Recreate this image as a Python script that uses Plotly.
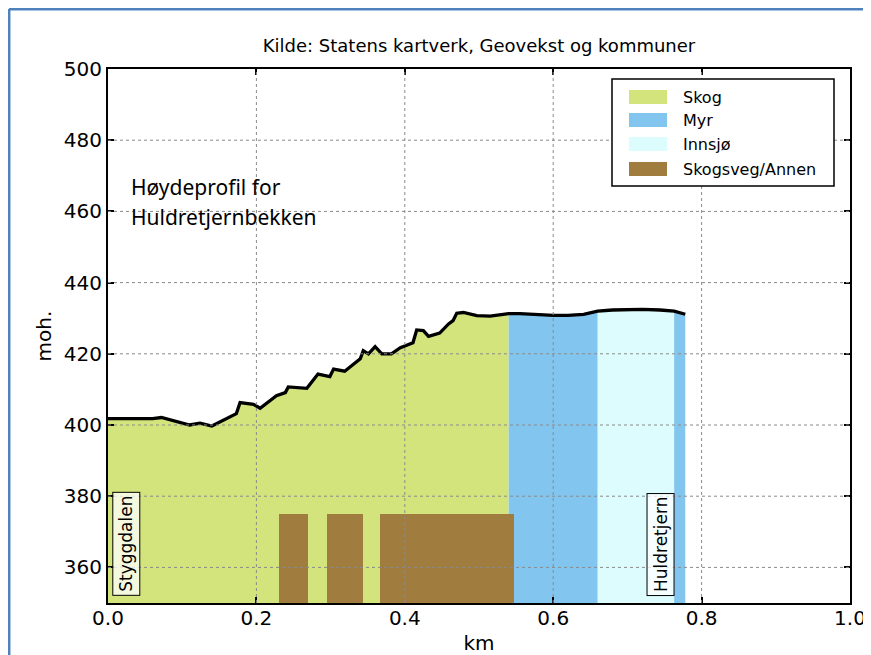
import plotly.graph_objects as go

# height profile (km, metres above sea level)
profile_km = [0.0, 0.06, 0.072, 0.11, 0.124, 0.14, 0.173, 0.178, 0.196, 0.205,
              0.227, 0.239, 0.243, 0.268, 0.283, 0.299, 0.304, 0.319, 0.34, 0.344,
              0.351, 0.36, 0.369, 0.382, 0.394, 0.411, 0.416, 0.425, 0.432, 0.447,
              0.459, 0.465, 0.47, 0.479, 0.497, 0.515, 0.54, 0.555, 0.6, 0.62,
              0.641, 0.66, 0.68, 0.699, 0.72, 0.744, 0.763, 0.778]
profile_moh = [401.8, 401.8, 402.1, 400.0, 400.5, 399.7, 403.2, 406.3, 405.8, 404.7,
               408.2, 409.1, 410.7, 410.3, 414.3, 413.6, 415.7, 415.1, 418.6, 420.9,
               420.0, 422.0, 420.0, 420.0, 421.7, 423.1, 426.7, 426.5, 424.9, 425.8,
               428.4, 429.3, 431.4, 431.6, 430.7, 430.6, 431.3, 431.3, 430.8, 430.8,
               431.1, 432.0, 432.3, 432.5, 432.5, 432.3, 432.0, 431.1]

# land cover along the profile
cover_start = [0.0, 0.54, 0.66, 0.763]
cover_end = [0.54, 0.66, 0.763, 0.778]
cover_type = ["Skog", "Myr", "Innsjø", "Myr"]

# forest roads
road_start = [0.231, 0.295, 0.367]
road_end = [0.270, 0.344, 0.547]
road_top = 375

legend_names = ["Skog", "Myr", "Innsjø", "Skogsveg/Annen"]
colors = {"Skog": "#d3e47c", "Myr": "#82c6ef", "Innsjø": "#ddfcfd",
          "Skogsveg/Annen": "#a07c3e"}

x_ticks = [0.0, 0.2, 0.4, 0.6, 0.8, 1.0]
y_ticks = [360, 380, 400, 420, 440, 460, 480, 500]
y_floor = 350

# page layout in pixels; the page body puts the figure 8px in from the corner
OFF = 8
L, R, T, B = 108, 850, 69, 603
W, H = 871 - OFF, 655 - OFF


def px(x):
    return (x - L) / (R - L)


def py(y):
    return (B - y) / (B - T)


fig = go.Figure()

for s, e, kind in zip(cover_start, cover_end, cover_type):
    xs = [k for k in profile_km if s <= k <= e]
    ys = [m for k, m in zip(profile_km, profile_moh) if s <= k <= e]
    fig.add_trace(go.Scatter(x=xs, y=ys, fill="tozeroy", mode="none",
                             fillcolor=colors[kind], showlegend=False,
                             hoverinfo="skip", zorder=0))

fig.add_trace(go.Bar(
    x=[(s + e) / 2 for s, e in zip(road_start, road_end)],
    width=[e - s for s, e in zip(road_start, road_end)],
    y=[road_top - y_floor] * len(road_start),
    base=y_floor,
    marker=dict(color=colors["Skogsveg/Annen"], line_width=0),
    showlegend=False, zorder=1))

fig.add_trace(go.Scatter(x=profile_km, y=profile_moh, mode="lines",
                         line=dict(color="black", width=3.3), showlegend=False,
                         zorder=2))

shapes = []
# grid above the fills, like the original
for t in x_ticks[1:-1]:
    shapes.append(dict(type="line", xref="x", yref="paper", x0=t, x1=t, y0=0, y1=1,
                       line=dict(color="#8a8a8a", width=1, dash="dot"), layer="above"))
for t in y_ticks[:-1]:
    shapes.append(dict(type="line", xref="paper", yref="y", x0=0, x1=1, y0=t, y1=t,
                       line=dict(color="#8a8a8a", width=1, dash="dot"), layer="above"))

# legend box
shapes.append(dict(type="rect", xref="paper", yref="paper", x0=px(612), x1=px(834),
                   y0=py(186), y1=py(79), fillcolor="white",
                   line=dict(color="black", width=1.5), layer="above"))
annotations = []
rows = [97, 120, 144, 169]
for name, r in zip(legend_names, rows):
    shapes.append(dict(type="rect", xref="paper", yref="paper", x0=px(629), x1=px(667),
                       y0=py(r + 7), y1=py(r - 7), fillcolor=colors[name],
                       line=dict(width=0), layer="above"))
    annotations.append(dict(x=px(681), y=py(r), xref="paper", yref="paper",
                            text=name, showarrow=False, xanchor="left", yanchor="middle",
                            font=dict(family="DejaVu Sans", size=16, color="black")))

# blue frame of the screenshot
shapes.append(dict(type="line", xref="paper", yref="paper", x0=px(9), x1=px(871),
                   y0=py(9.2), y1=py(9.2), line=dict(color="#4f81bd", width=2.5)))
shapes.append(dict(type="line", xref="paper", yref="paper", x0=px(9.2), x1=px(9.2),
                   y0=py(9), y1=py(655), line=dict(color="#4f81bd", width=2.5)))

annotations += [
    dict(x=px(129), y=py(187), xref="paper", yref="paper", text="Høydeprofil for",
         showarrow=False, xanchor="left", yanchor="middle",
         font=dict(family="Noto Sans", size=21, color="black")),
    dict(x=px(129), y=py(217), xref="paper", yref="paper", text="Huldretjernbekken",
         showarrow=False, xanchor="left", yanchor="middle",
         font=dict(family="Noto Sans", size=21, color="black")),
    dict(x=0.025, y=366.5, xref="x", yref="y", text="Styggdalen", textangle=-90,
         showarrow=False, bgcolor="rgba(255,255,255,0.75)", bordercolor="black",
         borderwidth=1, borderpad=3,
         font=dict(family="DejaVu Sans", size=17, color="black")),
    dict(x=0.745, y=366.5, xref="x", yref="y", text="Huldretjern", textangle=-90,
         showarrow=False, bgcolor="rgba(255,255,255,0.75)", bordercolor="black",
         borderwidth=1, borderpad=3,
         font=dict(family="DejaVu Sans", size=17, color="black")),
]

axis_common = dict(showline=True, linecolor="black", linewidth=2, mirror="allticks",
                   ticks="inside", ticklen=6, tickwidth=1.5, tickcolor="black",
                   showgrid=False, zeroline=False, automargin=False,
                   tickfont=dict(family="DejaVu Sans", size=20, color="black"))

fig.update_layout(
    width=W, height=H,
    margin=dict(l=L - OFF, r=W - (R - OFF), t=T - OFF, b=H - (B - OFF)),
    paper_bgcolor="white", plot_bgcolor="white",
    bargap=0,
    title=dict(text="Kilde: Statens kartverk, Geovekst og kommuner",
               x=(479 - OFF) / W, xanchor="center", y=1 - (46 - OFF) / H,
               yanchor="middle",
               font=dict(family="DejaVu Sans", size=18, color="black")),
    xaxis=dict(range=[0, 1], tickvals=x_ticks, tickformat=".1f",
               ticklabelstandoff=-4, ticklabeloverflow="allow",
               title=dict(text="km", standoff=10,
                          font=dict(family="DejaVu Sans", size=20, color="black")),
               **axis_common),
    yaxis=dict(range=[y_floor, 500], tickvals=y_ticks,
               title=dict(text="moh.", standoff=7,
                          font=dict(family="DejaVu Sans", size=20, color="black")),
               **axis_common),
    shapes=shapes,
    annotations=annotations,
    showlegend=False,
)

fig.write_html("out.html")
